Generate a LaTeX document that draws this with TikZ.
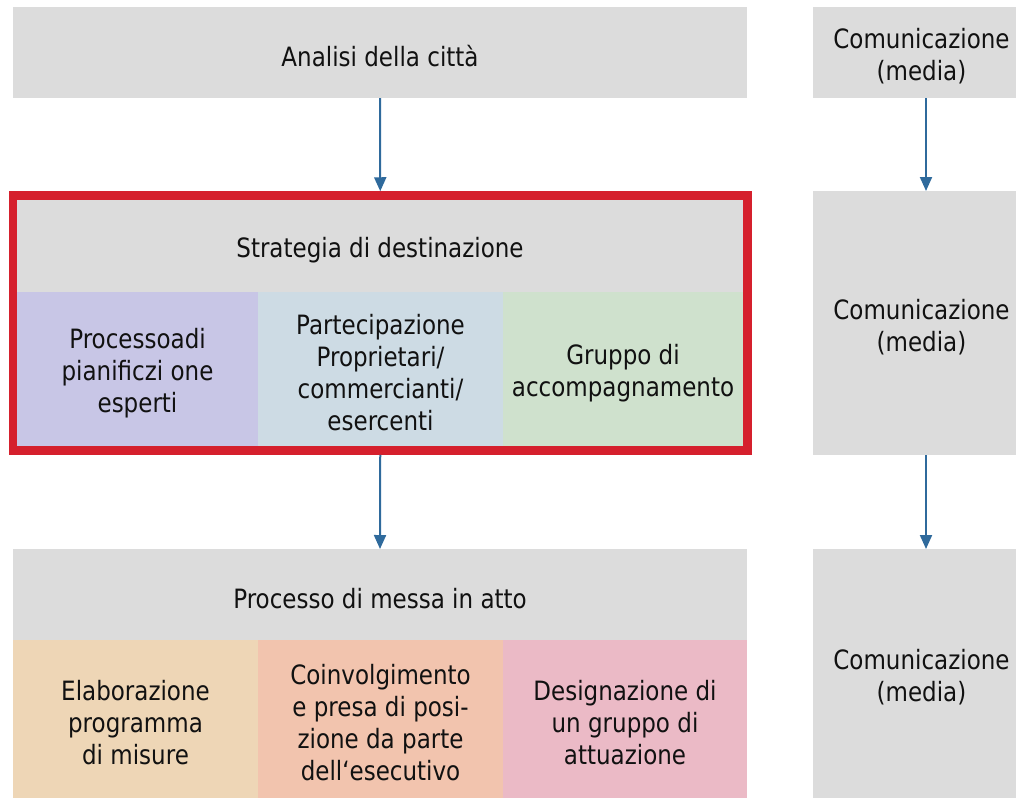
\documentclass[tikz,border=0pt]{standalone}
\usepackage{fontspec}
\setmainfont{DejaVu Sans}[FakeStretch=0.865]
\usetikzlibrary{arrows.meta}
\definecolor{boxgray}{HTML}{DCDCDC}
\definecolor{purp}{HTML}{C8C6E6}
\definecolor{bluegray}{HTML}{CDDBE4}
\definecolor{greenc}{HTML}{CFE1CD}
\definecolor{orangec}{HTML}{EED6B6}
\definecolor{salmon}{HTML}{F2C4AE}
\definecolor{pinkc}{HTML}{EBBAC6}
\definecolor{redc}{HTML}{D5202D}
\definecolor{arrowc}{HTML}{2F6A9C}
\definecolor{textc}{HTML}{111111}
\tikzset{
  cell/.style={rectangle, anchor=north west, inner sep=0pt, outer sep=0pt},
  txt/.style={align=center, text=textc, inner sep=0pt, yshift=-4pt,
    font=\fontsize{26.6}{32}\selectfont},
  flow/.style={draw=arrowc, line width=2pt, -{Triangle[width=12pt,length=14pt]}},
}
\begin{document}
\begin{tikzpicture}[x=1pt,y=-1pt]
\useasboundingbox (0,0) rectangle (1016,798);
\begin{scope}
\clip (0,0) rectangle (1016,798);
% top row
\node[cell, fill=boxgray, minimum width=734pt, minimum height=91pt,
  label={[txt]center:{Analisi della città}}] (an) at (13,7) {};
\node[cell, fill=boxgray, minimum width=217pt, minimum height=91pt,
  label={[txt]center:{Comunicazione\\(media)}}] (c1) at (813,7) {};
% strategy block
\node[cell, fill=boxgray, minimum width=726pt, minimum height=92pt,
  label={[txt]center:{Strategia di destinazione}}] (strat) at (17,200) {};
\node[cell, fill=purp, minimum width=241pt, minimum height=154pt,
  label={[txt]center:{Processoadi\\pianificzi one\\esperti}}] (s1) at (17,292) {};
\node[cell, fill=bluegray, minimum width=245pt, minimum height=154pt,
  label={[txt]center:{Partecipazione\\Proprietari/\\commercianti/\\esercenti}}] (s2) at (258,292) {};
\node[cell, fill=greenc, minimum width=240pt, minimum height=154pt,
  label={[txt]center:{Gruppo di\\accompagnamento}}] (s3) at (503,292) {};
\node[rectangle, draw=redc, line width=8.5pt, inner sep=0pt,
  minimum width=734.5pt, minimum height=255pt] (frame) at (380.25,323) {};
\node[cell, fill=boxgray, minimum width=217pt, minimum height=264pt,
  label={[txt]center:{Comunicazione\\(media)}}] (c2) at (813,191) {};
% implementation block
\node[cell, fill=boxgray, minimum width=734pt, minimum height=91pt,
  label={[txt]center:{Processo di messa in atto}}] (pm) at (13,549) {};
\node[cell, fill=orangec, minimum width=245pt, minimum height=158pt,
  label={[txt]center:{Elaborazione\\programma\\di misure}}] (b1) at (13,640) {};
\node[cell, fill=salmon, minimum width=245pt, minimum height=158pt,
  label={[txt]center:{Coinvolgimento\\e presa di posi-\\zione da parte\\dell‘esecutivo}}] (b2) at (258,640) {};
\node[cell, fill=pinkc, minimum width=244pt, minimum height=158pt,
  label={[txt]center:{Designazione di\\un gruppo di\\attuazione}}] (b3) at (503,640) {};
\node[cell, fill=boxgray, minimum width=217pt, minimum height=249pt,
  label={[txt]center:{Comunicazione\\(media)}}] (c3) at (813,549) {};
\end{scope}
% arrows
\draw[flow] (an.south) -- (frame.north);
\draw[flow] (frame.south) -- (pm.north);
\draw[flow] ([xshift=4.5pt]c1.south) -- ([xshift=4.5pt]c2.north);
\draw[flow] ([xshift=4.5pt]c2.south) -- ([xshift=4.5pt]c3.north);
\end{tikzpicture}
\end{document}
